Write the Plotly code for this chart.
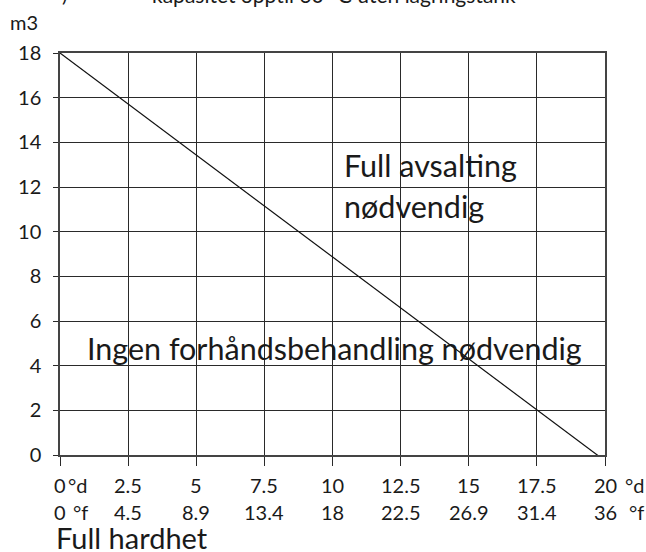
import plotly.graph_objects as go

# ---- data ----
hardness_dH = [0, 2.5, 5, 7.5, 10, 12.5, 15, 17.5, 20]
hardness_dH_labels = ["0", "2.5", "5", "7.5", "10", "12.5", "15", "17.5", "20"]
hardness_fH_labels = ["0", "4.5", "8.9", "13.4", "18", "22.5", "26.9", "31.4", "36"]
volume_ticks = [0, 2, 4, 6, 8, 10, 12, 14, 16, 18]
limit_x = [0, 19.88]
limit_y = [18, -0.15]

FONT = "Lato"
GRID = "#2a2a2a"
TICK_SIZE = 20
BIG = 30.5

fig = go.Figure()
fig.add_trace(go.Scatter(x=limit_x, y=limit_y, mode="lines",
                         line=dict(color="#111111", width=1.2),
                         cliponaxis=False, showlegend=False, hoverinfo="skip"))

fig.update_layout(
    width=646, height=552,
    margin=dict(l=60, r=41, t=52.5, b=97.3),
    paper_bgcolor="white", plot_bgcolor="white",
    font=dict(family=FONT, size=TICK_SIZE, color="#1a1a1a"),
    showlegend=False,
    xaxis=dict(range=[0, 20], tickmode="array", tickvals=hardness_dH,
               showticklabels=False,
               showgrid=True, gridcolor=GRID, gridwidth=1,
               ticks="outside", ticklen=9, tickcolor=GRID, tickwidth=1,
               showline=True, linecolor="#444444", linewidth=1.5, mirror=True,
               zeroline=False, fixedrange=True),
    yaxis=dict(range=[0, 18], tickmode="array", tickvals=volume_ticks,
               ticktext=[str(v) for v in volume_ticks],
               showgrid=True, gridcolor=GRID, gridwidth=1,
               ticks="outside", ticklen=5, tickcolor=GRID, tickwidth=1,
               ticklabelstandoff=8,
               showline=True, linecolor="#444444", linewidth=1.5, mirror=True,
               zeroline=False, fixedrange=True),
)

ann = []
# x tick label rows (°d and °f) placed at the axis positions
for xv, d, f in zip(hardness_dH, hardness_dH_labels, hardness_fH_labels):
    ann.append(dict(x=xv, y=0, xref="x", yref="paper", text=d, xanchor="center",
                    yanchor="middle", yshift=-30, showarrow=False,
                    font=dict(size=TICK_SIZE)))
    ann.append(dict(x=xv, y=0, xref="x", yref="paper", text=f, xanchor="center",
                    yanchor="middle", yshift=-57, showarrow=False,
                    font=dict(size=TICK_SIZE)))
# unit labels next to first / last x tick labels
ann.append(dict(x=0, y=0, xref="x", yref="paper", text="°d", xanchor="left", yanchor="middle",
                xshift=6, yshift=-30, showarrow=False, font=dict(size=TICK_SIZE)))
ann.append(dict(x=0, y=0, xref="x", yref="paper", text="°f", xanchor="left", yanchor="middle",
                xshift=11, yshift=-57, showarrow=False, font=dict(size=TICK_SIZE)))
ann.append(dict(x=20, y=0, xref="x", yref="paper", text="°d", xanchor="left", yanchor="middle",
                xshift=18, yshift=-30, showarrow=False, font=dict(size=TICK_SIZE)))
ann.append(dict(x=20, y=0, xref="x", yref="paper", text="°f", xanchor="left", yanchor="middle",
                xshift=22, yshift=-57, showarrow=False, font=dict(size=TICK_SIZE)))
# region labels
ann.append(dict(x=10.35, y=12.97, xref="x", yref="y", text="Full avsalting",
                xanchor="left", yanchor="middle", showarrow=False, font=dict(size=BIG)))
ann.append(dict(x=10.35, y=11.17, xref="x", yref="y", text="nødvendig",
                xanchor="left", yanchor="middle", showarrow=False, font=dict(size=BIG)))
ann.append(dict(x=0.92, y=4.78, xref="x", yref="y", text="Ingen forhåndsbehandling nødvendig",
                xanchor="left", yanchor="middle", showarrow=False, font=dict(size=BIG)))
# axis captions
ann.append(dict(x=0, y=0, xref="x", yref="paper", text="Full hardhet",
                xanchor="left", yanchor="middle", xshift=-6, yshift=-82,
                showarrow=False, font=dict(size=29)))
ann.append(dict(x=0, y=1, xref="x", yref="paper", text="m3",
                xanchor="right", yanchor="middle", xshift=-20, yshift=31,
                showarrow=False, font=dict(size=TICK_SIZE)))
# partially visible title at the top (cut off by the image edge)
ann.append(dict(x=0, y=1, xref="x", yref="paper", text=")",
                xanchor="left", yanchor="middle", xshift=0, yshift=59,
                showarrow=False, font=dict(size=20)))
ann.append(dict(x=0, y=1, xref="x", yref="paper", text="kapasitet opptil 30 °C uten lagringstank",
                xanchor="left", yanchor="middle", xshift=90, yshift=59,
                showarrow=False, font=dict(size=21)))
fig.update_layout(annotations=ann)

fig.write_html("out.html", config={"displayModeBar": False},
               post_script="document.body.style.margin='0';document.body.style.overflow='hidden';")
